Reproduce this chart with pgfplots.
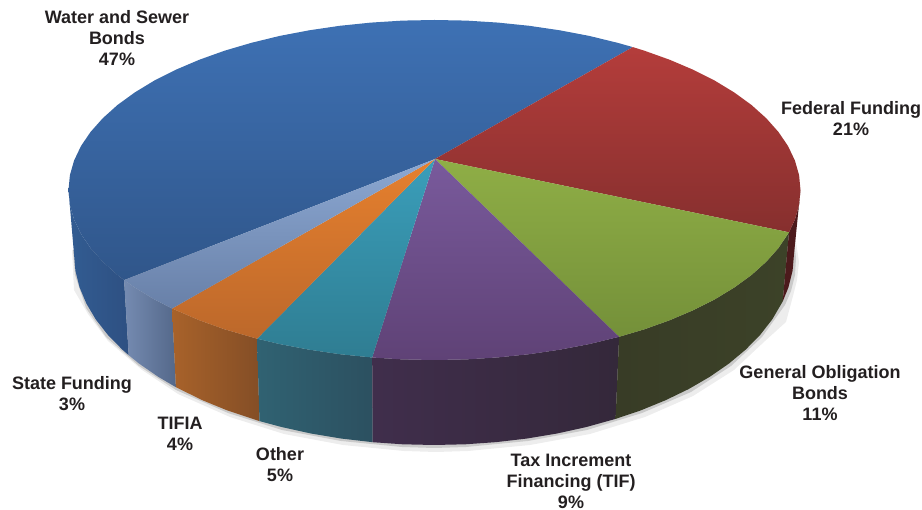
\documentclass[border=0pt]{standalone}
\usepackage{pgfplots}
\pgfplotsset{compat=1.18}
\usepackage{fontspec}
\setmainfont{Liberation Sans}
\definecolor{txt}{HTML}{231F20}
\begin{document}
\begin{tikzpicture}
\useasboundingbox (0,0) rectangle (922pt,510pt);
\begin{axis}[
  at={(0,0)},anchor=south west,
  width=922pt,height=510pt,scale only axis,hide axis,clip=false,
  xmin=0,xmax=922,ymin=0,ymax=510,y dir=reverse,no markers,
  every axis plot/.append style={draw=none,line width=0pt}]
% soft shadow under the body
\addplot[fill=black,opacity=0.07] coordinates {(795,235)(799,262)(797,280)(793,296)(786,322)(765,341)(734,370)(693,396)(645,417)(590,434)(530,445)(468,451)(436,452)(404,451)(343,445)(284,434)(230,417)(178,394)(142,370)(108,341)(88,314)(74,290)(72,250)} --cycle;
\addplot[fill=black,opacity=0.15] coordinates {(794,240)(796,258)(795,275)(791,291)(785,305)(762,337)(731,366)(691,392)(642,413)(587,430)(528,441)(466,447)(434,448)(402,447)(341,441)(282,430)(228,413)(176,390)(139,366)(106,337)(86,308)(75,275)(73,250)} --cycle;
% side walls
\addplot[left color={rgb,255:red,50;green,92;blue,146},right color={rgb,255:red,46;green,80;blue,130}] coordinates {(124.1,280.1)(117.5,275)(102.8,261.8)(90.6,248.1)(81.0,234)(74.1,219.5)(69.9,204.8)(68.5,190)(74,254)(75.4,270.7)(79.5,287.2)(86.3,303.4)(95.7,319.3)(107.7,334.7)(122.2,349.5)(128.7,355.2)} --cycle;
\addplot[left color={rgb,255:red,117;green,139;blue,177},right color={rgb,255:red,84;green,104;blue,138}] coordinates {(172.1,308.5)(154.1,299.3)(134.7,287.5)(124.1,280.1)(128.7,355.2)(139.1,363.6)(158.2,376.8)(175.9,387.2)} --cycle;
\addplot[left color={rgb,255:red,168;green,98;blue,42},right color={rgb,255:red,132;green,78;blue,38}] coordinates {(257.1,338.7)(224.6,329.3)(199.2,320.2)(172.1,308.5)(175.9,387.2)(202.6,400.3)(227.5,410.5)(259.5,421.1)} --cycle;
\addplot[left color={rgb,255:red,48;green,98;blue,114},right color={rgb,255:red,44;green,80;blue,96}] coordinates {(372.2,357.5)(339.8,354.2)(309.3,349.7)(279.8,344.1)(257.1,338.7)(259.5,421.1)(281.9,427.1)(310.9,433.5)(340.8,438.5)(372.7,442.2)} --cycle;
\addplot[left color={rgb,255:red,64;green,46;blue,76},right color={rgb,255:red,52;green,40;blue,58}] coordinates {(619.1,336.8)(589.2,344.1)(559.7,349.7)(529.2,354.2)(498.0,357.4)(466.4,359.4)(434.5,360)(402.6,359.4)(372.2,357.5)(372.7,442.2)(402.6,444.3)(434,445)(465.4,444.3)(496.5,442.1)(527.2,438.5)(557.1,433.5)(586.1,427.1)(615.6,418.9)} --cycle;
\addplot[left color={rgb,255:red,56;green,60;blue,38},right color={rgb,255:red,60;green,66;blue,40}] coordinates {(789.0,232.3)(778.4,248.1)(766.2,261.8)(751.5,275)(734.3,287.5)(714.9,299.3)(693.3,310.2)(669.8,320.2)(644.4,329.3)(619.1,336.8)(615.6,418.9)(640.5,410.5)(665.4,400.3)(688.6,389.1)(709.8,376.8)(728.9,363.6)(745.8,349.5)(760.3,334.7)(772.3,319.3)(782.7,301.5)} --cycle;
\addplot[fill={rgb,255:red,76;green,26;blue,28}] coordinates {(800.5,190)(799.1,204.8)(794.9,219.5)(789.0,232.3)(782.7,301.5)(788.5,287.2)(792.6,270.7)(794,254)} --cycle;
% top faces
\addplot[top color={rgb,255:red,62;green,113;blue,180},bottom color={rgb,255:red,48;green,86;blue,138}] coordinates {(435,159)(124.1,280.1)(117.5,275)(102.8,261.8)(90.6,248.1)(81.0,234)(74.1,219.5)(69.9,204.8)(68.5,190)(69.9,175.2)(74.1,160.5)(81.0,146)(90.6,131.9)(102.8,118.2)(117.5,105)(134.7,92.5)(154.1,80.7)(175.7,69.8)(199.2,59.8)(224.6,50.7)(251.5,42.8)(279.8,35.9)(309.3,30.3)(339.8,25.8)(371.0,22.6)(402.6,20.6)(434.5,20)(466.4,20.6)(498,22.6)(529.2,25.8)(559.7,30.3)(589.2,35.9)(617.5,42.8)(632.8,47.1)} --cycle;
\addplot[top color={rgb,255:red,180;green,61;blue,59},bottom color={rgb,255:red,134;green,47;blue,46}] coordinates {(435,159)(632.8,47.1)(644.4,50.7)(669.8,59.8)(693.3,69.8)(714.9,80.7)(734.3,92.5)(751.5,105)(766.2,118.2)(778.4,131.9)(788,146)(794.9,160.5)(799.1,175.2)(800.5,190)(799.1,204.8)(794.9,219.5)(789.0,232.3)} --cycle;
\addplot[top color={rgb,255:red,143;green,174;blue,70},bottom color={rgb,255:red,116;green,144;blue,57}] coordinates {(435,159)(789.0,232.3)(778.4,248.1)(766.2,261.8)(751.5,275)(734.3,287.5)(714.9,299.3)(693.3,310.2)(669.8,320.2)(644.4,329.3)(619.1,336.8)} --cycle;
\addplot[top color={rgb,255:red,121;green,90;blue,156},bottom color={rgb,255:red,95;green,66;blue,118}] coordinates {(435,159)(619.1,336.8)(589.2,344.1)(559.7,349.7)(529.2,354.2)(498.0,357.4)(466.4,359.4)(434.5,360)(402.6,359.4)(372.2,357.5)} --cycle;
\addplot[top color={rgb,255:red,58;green,158;blue,186},bottom color={rgb,255:red,47;green,125;blue,146}] coordinates {(435,159)(372.2,357.5)(339.8,354.2)(309.3,349.7)(279.8,344.1)(257.1,338.7)} --cycle;
\addplot[top color={rgb,255:red,230;green,128;blue,46},bottom color={rgb,255:red,188;green,104;blue,43}] coordinates {(435,159)(257.1,338.7)(224.6,329.3)(199.2,320.2)(172.1,308.5)} --cycle;
\addplot[top color={rgb,255:red,140;green,168;blue,210},bottom color={rgb,255:red,104;green,128;blue,168}] coordinates {(435,159)(172.1,308.5)(154.1,299.3)(134.7,287.5)(124.1,280.1)} --cycle;
% labels
\begin{scope}[every node/.style={align=center,inner sep=0pt,text=txt,font=\fontsize{18}{21}\selectfont\bfseries}]
\node at (axis cs:117,38) {Water and Sewer\\Bonds\\47\%};
\node at (axis cs:851,119) {Federal Funding\\21\%};
\node at (axis cs:820,393) {General Obligation\\Bonds\\11\%};
\node at (axis cs:571,481) {Tax Increment\\Financing (TIF)\\9\%};
\node at (axis cs:280,465) {Other\\5\%};
\node at (axis cs:180,434) {TIFIA\\4\%};
\node at (axis cs:72,394) {State Funding\\3\%};
\end{scope}
\end{axis}
\end{tikzpicture}
\end{document}
